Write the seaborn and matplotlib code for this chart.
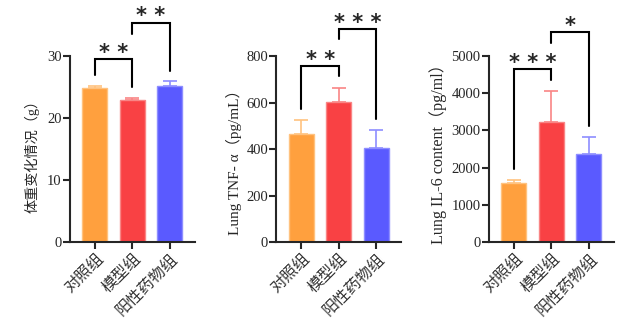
import matplotlib
matplotlib.use("Agg")
import matplotlib.pyplot as plt
import seaborn as sns
import pandas as pd

groups = ["对照组", "模型组", "阳性药物组"]
bar_colors = ["#FFA03E", "#F94144", "#5A5AFF"]
err_colors = ["#FFC27F", "#F98585", "#8E8EFF"]

weight_mean = [24.8, 22.9, 25.1]
weight_err = [0.3, 0.3, 0.8]
tnf_mean = [464, 604, 405]
tnf_err = [61, 59, 76]
il6_mean = [1583, 3229, 2361]
il6_err = [81, 823, 474]

ylabels = ["体重变化情况（g）", "Lung TNF- α（pg/mL）", "Lung IL-6 content（pg/ml）"]
yticks = [[0, 10, 20, 30], [0, 200, 400, 600, 800], [0, 1000, 2000, 3000, 4000, 5000]]
ylims = [30, 800, 5000]

# brackets: (x1, x2, y_top, y_left_end, y_right_end, y_star, label)
brackets = [
    [(0, 1, 29.5, 26.9, 25.0, 31.5, "* *"), (1, 2, 35.4, 33.6, 27.6, 37.4, "* *")],
    [(0, 1, 758, 572, 714, 811, "* *"), (1, 2, 916, 873, 529, 971, "* * *")],
    [(0, 1, 4642, 1959, 4347, 4982, "* * *"), (1, 2, 5644, 5340, 3122, 5966, "*")],
]

means = [weight_mean, tnf_mean, il6_mean]
errs = [weight_err, tnf_err, il6_err]

sns.set_style("ticks")
plt.rcParams["font.family"] = ["Liberation Serif", "Noto Sans CJK SC", "DejaVu Sans"]

fig = plt.figure(figsize=(6.4, 3.24), dpi=100)
lefts = [0.109, 0.432, 0.764]
width = 0.195
label_fams = [["Liberation Serif", "Noto Sans CJK SC"],
              ["Liberation Serif", "Noto Sans CJK SC"],
              ["Liberation Serif", "Noto Sans CJK SC"]]
label_sizes = [10.2, 11.0, 11.6]
label_pos = [(-0.30, 0.478), (-0.34, 0.446), (-0.41, 0.493)]
star_size = 15
for i in range(3):
    ax = fig.add_axes([lefts[i], 0.253, width, 0.574])
    df = pd.DataFrame({"group": groups, "value": means[i]})
    sns.barplot(data=df, x="group", y="value", hue="group", palette=bar_colors,
                order=groups, hue_order=groups, width=0.67, errorbar=None,
                legend=False, ax=ax, saturation=1)
    for j, p in enumerate(ax.patches):
        p.set_edgecolor(err_colors[j])
        p.set_linewidth(1.0)
    for j in range(3):
        ax.errorbar(j, means[i][j], yerr=[[0], [errs[i][j]]], color=err_colors[j],
                    capsize=5, elinewidth=1.2, capthick=1.2, zorder=1)
    ax.set_xlim(-0.667, 2.667)
    ax.set_ylim(0, ylims[i])
    ax.set_yticks(yticks[i])
    ax.set_xlabel("")
    ax.set_ylabel(ylabels[i], fontsize=label_sizes[i], family=label_fams[i],
                  va="center", ha="center")
    ax.yaxis.set_label_coords(*label_pos[i])
    sns.despine(ax=ax)
    for s in ["left", "bottom"]:
        ax.spines[s].set_linewidth(1.5)
    ax.tick_params(axis="both", width=1.5, length=5, labelsize=10.5, pad=1)
    ax.set_xticks(range(3))
    ax.set_xticklabels(groups, rotation=45, ha="right", rotation_mode="anchor",
                       fontsize=11.5, family=["Noto Sans CJK SC"], color="#333333")
    for (x1, x2, yt, yl, yr, ys, lab) in brackets[i]:
        ax.plot([x1, x1, x2, x2], [yl, yt, yt, yr], color="black", lw=1.5,
                clip_on=False, solid_joinstyle="miter")
        ax.annotate(lab, xy=((x1 + x2) / 2, ys), xytext=(0, -0.59 * star_size),
                    textcoords="offset points", ha="center", va="baseline",
                    fontsize=star_size, fontweight="bold", family="DejaVu Sans",
                    annotation_clip=False)

fig.savefig("out.png", dpi=100)
